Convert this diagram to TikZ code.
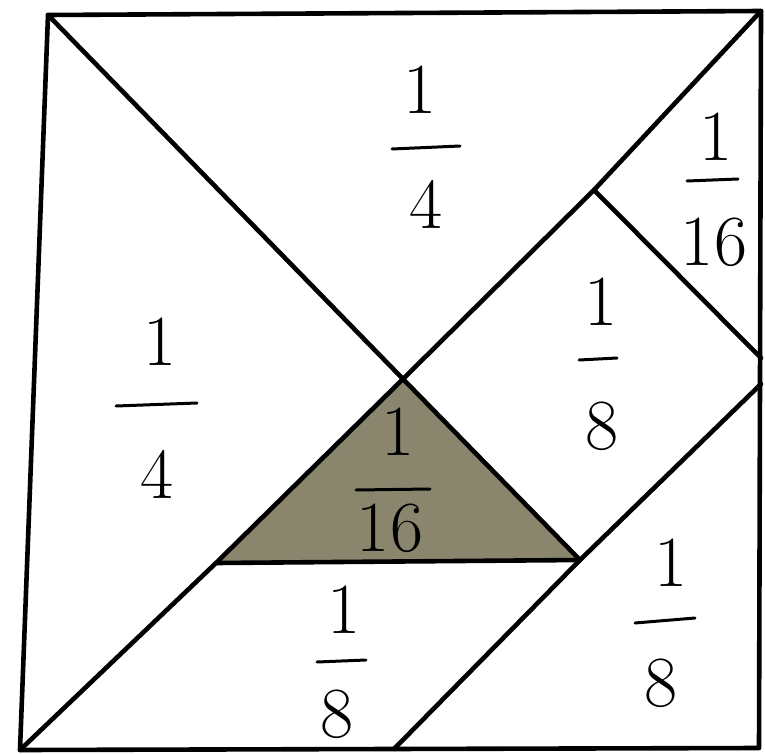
\documentclass[tikz,border=0pt]{standalone}
\definecolor{piecefill}{RGB}{138,134,110}
\begin{document}
\begin{tikzpicture}[x=1pt,y=-1pt,
  edge/.style={line width=4.6pt, line cap=round, line join=round},
  digit/.style={font=\fontsize{72}{72}\selectfont, inner sep=0pt},
  bar/.style={line width=3pt, line cap=round}]
\useasboundingbox (0,0) rectangle (765,754);
% corners
\coordinate (TL) at (48,15);
\coordinate (TR) at (761,11);
\coordinate (BR) at (759,748);
\coordinate (BL) at (20,750);
% inner points
\coordinate (X) at (403,379);
\coordinate (S) at (594,190);
\coordinate (R1) at (761,358);
\coordinate (R2) at (761,384);
\coordinate (A) at (216,563);
\coordinate (B) at (580,560);
\coordinate (D) at (394,749);
% shaded triangle
\fill[piecefill] (X) -- (A) -- (B) -- cycle;
% outline
\draw[edge] (TL) -- (TR) -- (BR) -- (BL) -- cycle;
% cuts
\draw[edge] (TL) -- (X);
\draw[edge] (TR) -- (S) -- (X) -- (A) -- (BL);
\draw[edge] (A) -- (B);
\draw[edge] (X) -- (B);
\draw[edge] (S) -- (R1);
\draw[edge] (R2) -- (B) -- (D);
% labels: top 1/4
\node[digit] (n1) at (420,90) {1};
\draw[bar] (392,149) -- (460,146);
\node[digit] (d1) at (426,204) {4};
% top right 1/16
\node[digit] (n2) at (716,137) {1};
\draw[bar] (687,181) -- (738,179);
\node[digit] (d2) at (714,242) {16};
% left 1/4
\node[digit] (n3) at (160,342) {1};
\draw[bar] (116,406) -- (197,403);
\node[digit] (d3) at (157,474) {4};
% right 1/8
\node[digit] (n4) at (601,302) {1};
\draw[bar] (579,360) -- (617,358);
\node[digit] (d4) at (602,426) {8};
% shaded 1/16
\node[digit] (n5) at (398,432) {1};
\draw[bar] (356,490) -- (430,489);
\node[digit] (d5) at (390,528) {16};
% bottom 1/8
\node[digit] (n6) at (344,610) {1};
\draw[bar] (317,662) -- (366,660);
\node[digit] (d6) at (337,714) {8};
% bottom right 1/8
\node[digit] (n7) at (671,563) {1};
\draw[bar] (635,623) -- (695,618);
\node[digit] (d7) at (661,683) {8};
\end{tikzpicture}
\end{document}
